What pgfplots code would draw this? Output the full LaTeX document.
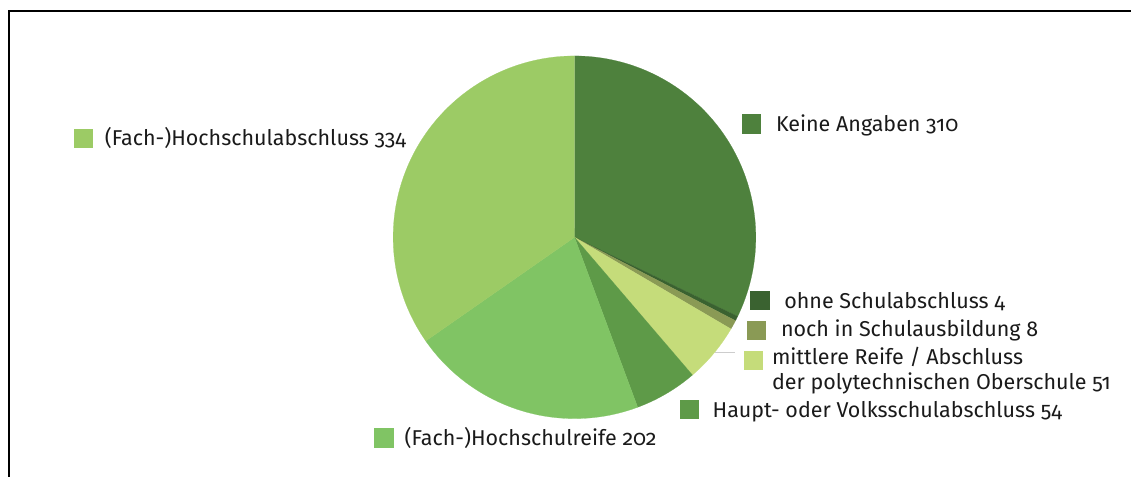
\documentclass[border=0pt]{standalone}
\usepackage{fontspec}
\setmainfont{Fira Sans}[Numbers=OldStyle]
\usepackage{pgfplots}
\pgfplotsset{compat=1.18}
\definecolor{cKA}{HTML}{4E813D}
\definecolor{cOS}{HTML}{3A6230}
\definecolor{cNS}{HTML}{8A9A55}
\definecolor{cMR}{HTML}{C5DC7A}
\definecolor{cHV}{HTML}{5E9A48}
\definecolor{cHR}{HTML}{80C464}
\definecolor{cHA}{HTML}{9CCB65}
\definecolor{txt}{HTML}{1A1A1A}
% values (clockwise from top)
\def\vKA{310}\def\vOS{4}\def\vNS{8}\def\vMR{51}\def\vHV{54}\def\vHR{202}\def\vHA{334}
\pgfmathsetmacro\tot{\vKA+\vOS+\vNS+\vMR+\vHV+\vHR+\vHA}
\pgfmathsetmacro\aA{90}
\pgfmathsetmacro\aB{\aA-360*(\vKA/\tot)}
\pgfmathsetmacro\aC{\aB-360*(\vOS/\tot)}
\pgfmathsetmacro\aD{\aC-360*(\vNS/\tot)}
\pgfmathsetmacro\aE{\aD-360*(\vMR/\tot)}
\pgfmathsetmacro\aF{\aE-360*(\vHV/\tot)}
\pgfmathsetmacro\aG{\aF-360*(\vHR/\tot)}
\pgfmathsetmacro\aH{\aG-360*(\vHA/\tot)}
\newcommand\slice[3]{%
  \addplot[fill=#1, draw=#1, line width=0.2bp, domain=#3:#2, samples=90, variable=\t]
    ({575+181.5*cos(\t)},{239.5+181.5*sin(\t)}) -- (axis cs:575,239.5) -- cycle;}
\newcommand\sq[3]{%
  \addplot[only marks, color=#1, mark=square*, mark size=9.2bp, mark options={fill=#1, draw=#1, line width=0pt}]
    coordinates {(#2,#3)};}
\tikzset{lab/.style={font=\fontsize{21.5bp}{25bp}\selectfont, text=txt, inner sep=0pt, outer sep=0pt, anchor=base west}}
\begin{document}
\begin{tikzpicture}
\begin{axis}[x=1bp, y=1bp, xmin=0, xmax=1132, ymin=0, ymax=477,
  scale only axis, hide axis, clip=false]
\addplot[draw=none] coordinates {(0,0) (1132,477)};
% frame
\addplot[black, line width=2bp] coordinates {(9.3,0) (9.3,466) (1132,466)};
% pie
\slice{cKA}{\aA}{\aB}
\slice{cOS}{\aB}{\aC}
\slice{cNS}{\aC}{\aD}
\slice{cMR}{\aD}{\aE}
\slice{cHV}{\aE}{\aF}
\slice{cHR}{\aF}{\aG}
\slice{cHA}{\aG}{\aH}
% leader line
\addplot[color={rgb,255:red,205;green,205;blue,205}, line width=1bp] coordinates {(716,123.7) (735.7,123.7)};
% legend squares
\sq{cHA}{83.8}{338.3}
\sq{cKA}{752}{353}
\sq{cOS}{760.8}{176.5}
\sq{cNS}{757}{146.5}
\sq{cMR}{754}{116.2}
\sq{cHV}{690}{67.3}
\sq{cHR}{384.2}{38.7}
% labels
\node[lab] at (axis cs:105,331) {(Fach-)Hochschulabschluss 334};
\node[lab] at (axis cs:776.7,345) {Keine Angaben 310};
\node[lab] at (axis cs:785,168.7) {ohne Schulabschluss 4};
\node[lab] at (axis cs:781.7,139.7) {noch in Schulausbildung 8};
\node[lab] at (axis cs:772.7,112) {mittlere Reife / Abschluss};
\node[lab] at (axis cs:772.7,87) {der polytechnischen Oberschule 51};
\node[lab] at (axis cs:713.3,58.7) {Haupt- oder Volksschulabschluss 54};
\node[lab] at (axis cs:405,31) {(Fach-)Hochschulreife 202};
\end{axis}
\end{tikzpicture}
\end{document}
